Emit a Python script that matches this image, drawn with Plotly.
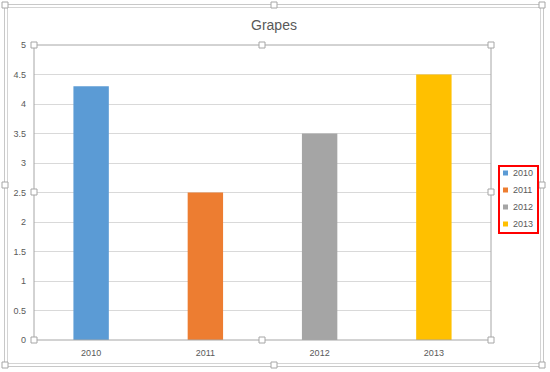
import plotly.graph_objects as go

categories = ["2010", "2011", "2012", "2013"]
values = [4.3, 2.5, 3.5, 4.5]
colors = ["#5B9BD5", "#ED7D31", "#A5A5A5", "#FFC000"]
title_text = "Grapes"

W, H = 550, 372
L, R, T, B = 34, 491, 45, 340  # plot area in px
pw, ph = R - L, B - T


def px(x):
    return (x - L) / pw


def py(y):
    return (B - y) / ph


fig = go.Figure()
for c, v, col in zip(categories, values, colors):
    fig.add_trace(go.Bar(x=[c], y=[v], name=c, marker=dict(color=col, line=dict(width=0)),
                         width=0.31, showlegend=False))

shapes = []
# chart area border (double line)
shapes.append(dict(type="rect", xref="paper", yref="paper", x0=px(4.5), x1=px(543.5), y0=py(4.5), y1=py(366.5),
                   line=dict(color="#C8C8C8", width=1), layer="below"))
shapes.append(dict(type="rect", xref="paper", yref="paper", x0=px(7.5), x1=px(540.5), y0=py(7.5), y1=py(363.5),
                   line=dict(color="#D4D4D4", width=1), layer="below"))
# plot area outline
shapes.append(dict(type="rect", xref="paper", yref="paper", x0=0, x1=1, y0=0, y1=1,
                   line=dict(color="#A6A6A6", width=1), layer="above"))

handles = [(34, 45), (262, 45), (491, 45), (34, 192), (491, 192), (34, 340), (262, 340), (491, 340),
           (5, 5), (274, 5), (542, 5), (5, 185), (542, 185), (5, 365), (274, 365), (542, 365)]
for hx, hy in handles:
    shapes.append(dict(type="rect", xref="paper", yref="paper",
                       x0=px(hx - 3), x1=px(hx + 3), y0=py(hy + 3), y1=py(hy - 3),
                       fillcolor="white", line=dict(color="#A6A6A6", width=1), layer="above"))

# legend box (manual)
shapes.append(dict(type="rect", xref="paper", yref="paper", x0=px(499), x1=px(538), y0=py(233), y1=py(166),
                   line=dict(color="#FF0000", width=2), fillcolor="rgba(0,0,0,0)", layer="above"))
annotations = []
for i, (c, col) in enumerate(zip(categories, colors)):
    yc = 173 + i * 17
    shapes.append(dict(type="rect", xref="paper", yref="paper", x0=px(503), x1=px(508),
                       y0=py(yc + 2.5), y1=py(yc - 2.5), fillcolor=col, line=dict(width=0)))
    annotations.append(dict(x=px(511), y=py(yc), xref="paper", yref="paper", text=c, showarrow=False,
                            xanchor="left", yanchor="middle", font=dict(size=9, color="#595959")))

fig.update_layout(
    width=W, height=H,
    margin=dict(l=L, r=W - R, t=T, b=H - B, pad=0),
    paper_bgcolor="white", plot_bgcolor="white",
    barmode="overlay",
    font=dict(family="Liberation Sans, Arial, sans-serif", color="#595959", size=9),
    title=dict(text=title_text, x=274 / W, xref="container", xanchor="center", y=1 - 25 / H, yanchor="middle",
               font=dict(size=14, color="#595959")),
    xaxis=dict(type="category", categoryorder="array", categoryarray=categories, range=[-0.5, 3.5],
               showgrid=False, showline=False, zeroline=False, ticks="", ticklabelstandoff=6,
               tickfont=dict(size=9, color="#595959"), fixedrange=True),
    yaxis=dict(range=[0, 5], dtick=0.5, tick0=0, showgrid=True, gridcolor="#D9D9D9", gridwidth=1,
               zeroline=False, showline=False, ticks="", ticklabelstandoff=7,
               tickfont=dict(size=9, color="#595959"), fixedrange=True),
    shapes=shapes,
    annotations=annotations,
    showlegend=False,
)

fig.write_html("out.html", config={"displayModeBar": False},
               post_script="document.body.style.margin='0';document.body.style.padding='0';")
